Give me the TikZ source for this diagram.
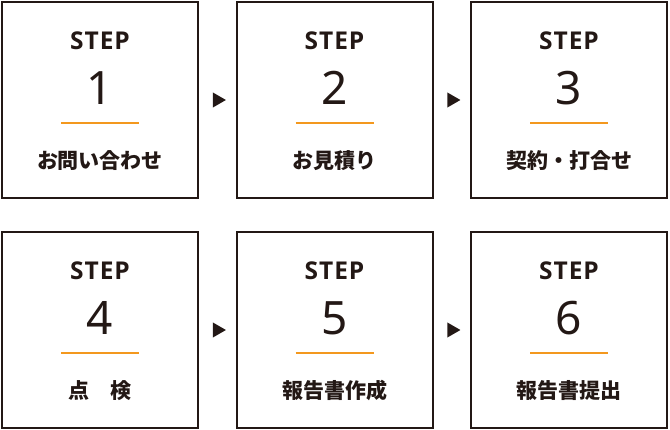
\documentclass[tikz,border=0pt]{standalone}
\usepackage{fontspec}
\setmainfont{Noto Sans}
\newfontfamily\labelfont{Open Sans}[LetterSpace=4]
\newfontfamily\jpfont{Noto Sans CJK JP}
\usetikzlibrary{shapes.geometric, positioning, calc}
\definecolor{inkdark}{RGB}{35, 24, 21}
\definecolor{ruleorange}{RGB}{243, 152, 30}

\begin{document}
\begin{tikzpicture}[x=1pt, y=1pt,
    stepbox/.style={draw=inkdark, line width=2pt, minimum size=196pt, inner sep=0pt},
    steplbl/.style={anchor=base, text=inkdark, font=\labelfont\bfseries\fontsize{24.5}{24.5}\selectfont},
    stepnum/.style={anchor=base, text=inkdark, font=\fontsize{46}{46}\selectfont},
    steptxt/.style={text=inkdark, font=\jpfont\bfseries\fontsize{21}{21}\selectfont},
    steprule/.style={ruleorange, line width=2pt},
    nexttri/.style={isosceles triangle, isosceles triangle apex angle=60, fill=inkdark,
        inner sep=0pt, minimum height=13pt, minimum width=13pt}]
    \useasboundingbox (0,0) rectangle (670,-430);

    % Upper row
    \node[stepbox] (s1) at (100,-100) {};
    \node[stepbox] (s2) at (334.5,-100) {};
    \node[stepbox] (s3) at (569,-100) {};
    % Lower row
    \node[stepbox] (s4) at (100,-330) {};
    \node[stepbox] (s5) at (334.5,-330) {};
    \node[stepbox] (s6) at (569,-330) {};

    % Box contents
    \node[steplbl] (s1l) at ([yshift=50pt]s1.center) {STEP};
    \node[stepnum] (s1n) at ([yshift=-4.5pt]s1.center) {1};
    \draw[steprule] ([xshift=-39pt,yshift=-23pt]s1.center) -- ([xshift=39pt,yshift=-23pt]s1.center);
    \node[steptxt] (s1t) at ([yshift=-61pt]s1.center) {お問い合わせ};

    \node[steplbl] (s2l) at ([yshift=50pt]s2.center) {STEP};
    \node[stepnum] (s2n) at ([yshift=-4.5pt]s2.center) {2};
    \draw[steprule] ([xshift=-39pt,yshift=-23pt]s2.center) -- ([xshift=39pt,yshift=-23pt]s2.center);
    \node[steptxt] (s2t) at ([yshift=-61pt]s2.center) {お見積り};

    \node[steplbl] (s3l) at ([yshift=50pt]s3.center) {STEP};
    \node[stepnum] (s3n) at ([yshift=-4.5pt]s3.center) {3};
    \draw[steprule] ([xshift=-39pt,yshift=-23pt]s3.center) -- ([xshift=39pt,yshift=-23pt]s3.center);
    \node[steptxt] (s3t) at ([yshift=-61pt]s3.center) {契約・打合せ};

    \node[steplbl] (s4l) at ([yshift=50pt]s4.center) {STEP};
    \node[stepnum] (s4n) at ([yshift=-4.5pt]s4.center) {4};
    \draw[steprule] ([xshift=-39pt,yshift=-23pt]s4.center) -- ([xshift=39pt,yshift=-23pt]s4.center);
    \node[steptxt] (s4t) at ([yshift=-61pt]s4.center) {点　検};

    \node[steplbl] (s5l) at ([yshift=50pt]s5.center) {STEP};
    \node[stepnum] (s5n) at ([yshift=-4.5pt]s5.center) {5};
    \draw[steprule] ([xshift=-39pt,yshift=-23pt]s5.center) -- ([xshift=39pt,yshift=-23pt]s5.center);
    \node[steptxt] (s5t) at ([yshift=-61pt]s5.center) {報告書作成};

    \node[steplbl] (s6l) at ([yshift=50pt]s6.center) {STEP};
    \node[stepnum] (s6n) at ([yshift=-4.5pt]s6.center) {6};
    \draw[steprule] ([xshift=-39pt,yshift=-23pt]s6.center) -- ([xshift=39pt,yshift=-23pt]s6.center);
    \node[steptxt] (s6t) at ([yshift=-61pt]s6.center) {報告書提出};

    % Triangles between boxes
    \node[nexttri] (a12) at ($(s1.east)!0.5!(s2.west)$) {};
    \node[nexttri] (a23) at ($(s2.east)!0.5!(s3.west)$) {};
    \node[nexttri] (a45) at ($(s4.east)!0.5!(s5.west)$) {};
    \node[nexttri] (a56) at ($(s5.east)!0.5!(s6.west)$) {};
\end{tikzpicture}
\end{document}
